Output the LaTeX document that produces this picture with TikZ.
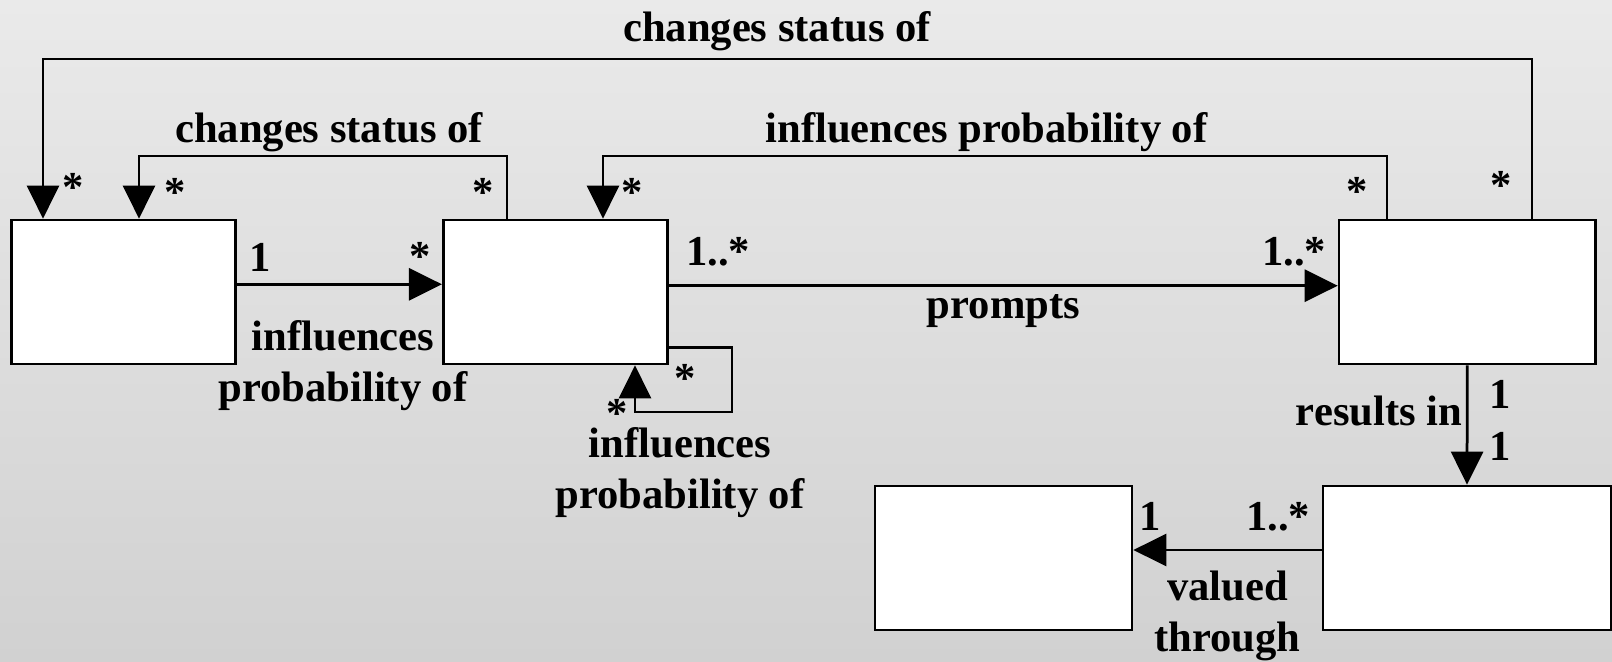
\documentclass[tikz,border=0pt]{standalone}
\usepackage{fontspec}
\setmainfont{Liberation Serif}
\usetikzlibrary{arrows.meta}
\definecolor{bgtop}{RGB}{234,234,234}
\definecolor{bgbottom}{RGB}{209,209,209}
\newcommand{\umlfont}{\fontsize{24.25pt}{29pt}\selectfont\bfseries}
\tikzset{
  cls/.style = {draw, line width=0.055cm, fill=white, inner sep=0pt, minimum height=2.88cm},
  assoc/.style = {line width=0.055cm, -{Triangle[length=0.66cm, width=0.64cm]}},
  lbl/.style = {font=\umlfont, inner sep=0pt, anchor=base, align=center}
}
\begin{document}
\begin{tikzpicture}[x=0.02cm, y=-0.02cm]
	\shade [top color=bgtop, bottom color=bgbottom] (0,0) rectangle (1612,662);
	\useasboundingbox (0,0) rectangle (1612,662);
	% classes
	\node [cls, minimum width=4.49cm] (factor) at (123.5,292) {};
	\node [cls, minimum width=4.48cm] (event) at (555.3,292) {};
	\node [cls, minimum width=5.13cm] (incident) at (1467.3,292) {};
	\node [cls, minimum width=5.14cm] (value) at (1003.5,558) {};
	\node [cls, minimum width=5.76cm] (impact) at (1467,558) {};
	% bends
	\coordinate (outerL) at (43,59);
	\coordinate (outerR) at (1532,59);
	\coordinate (innerL) at (139,156);
	\coordinate (innerR) at (507,156);
	\coordinate (probL) at (603,156);
	\coordinate (probR) at (1387,156);
	\coordinate (loopR) at (732,412);
	\coordinate (loopL) at (635,412);
	% associations
	\draw [assoc] (incident.north -| outerR) -- (outerR) -- (outerL) -- (factor.north -| outerL);
	\draw [assoc] (event.north -| innerR) -- (innerR) -- (innerL) -- (factor.north -| innerL);
	\draw [assoc] (incident.north -| probR) -- (probR) -- (probL) -- (event.north -| probL);
	\draw [assoc] ([yshift=0.154cm]factor.east) -- ([yshift=0.154cm]event.west);
	\draw [assoc] ([yshift=0.126cm]event.east) -- ([yshift=0.126cm]incident.west);
	\draw [assoc] ([yshift=-1.106cm]event.east) -| (loopR) -- (loopL) -- (event.south -| loopL);
	\draw [assoc] (incident.south) -- (impact.north);
	\draw [assoc] ([yshift=0.16cm]impact.west) -- ([yshift=0.16cm]value.east);
	% association names (two-line ones sit on their last baseline)
	\node [lbl] (nOuter) at (777,42) {changes status of};
	\node [lbl] (nInner) at (329,143) {changes status of};
	\node [lbl] (nProb) at (986.5,143) {influences probability of};
	\node [lbl] (nFactor) at (343,401.7) {influences\\probability of};
	\node [lbl] (nPrompts) at (1003.5,318) {prompts};
	\node [lbl] (nLoop) at (680,508.3) {influences\\probability of};
	\node [lbl] (nResults) at (1379,425) {results in};
	\node [lbl] (nValued) at (1227.5,651.7) {valued\\through};
	% multiplicities
	\node [lbl] (m1) at (260,272) {1};
	\node [lbl] (m2) at (420,271) {*};
	\node [lbl] (m3) at (718,265) {1..*};
	\node [lbl] (m4) at (1294,265) {1..*};
	\node [lbl] (m5) at (73.3,201.5) {*};
	\node [lbl] (m6) at (174.7,206.5) {*};
	\node [lbl] (m7) at (483.3,206.5) {*};
	\node [lbl] (m8) at (632,206.5) {*};
	\node [lbl] (m9) at (685.5,392) {*};
	\node [lbl] (m10) at (617,427) {*};
	\node [lbl] (m11) at (1357.5,205.7) {*};
	\node [lbl] (m12) at (1501.5,199.5) {*};
	\node [lbl] (m13) at (1500.5,408) {1};
	\node [lbl] (m14) at (1500.5,460) {1};
	\node [lbl] (m15) at (1278,530) {1..*};
	\node [lbl] (m16) at (1150,530) {1};
\end{tikzpicture}
\end{document}
